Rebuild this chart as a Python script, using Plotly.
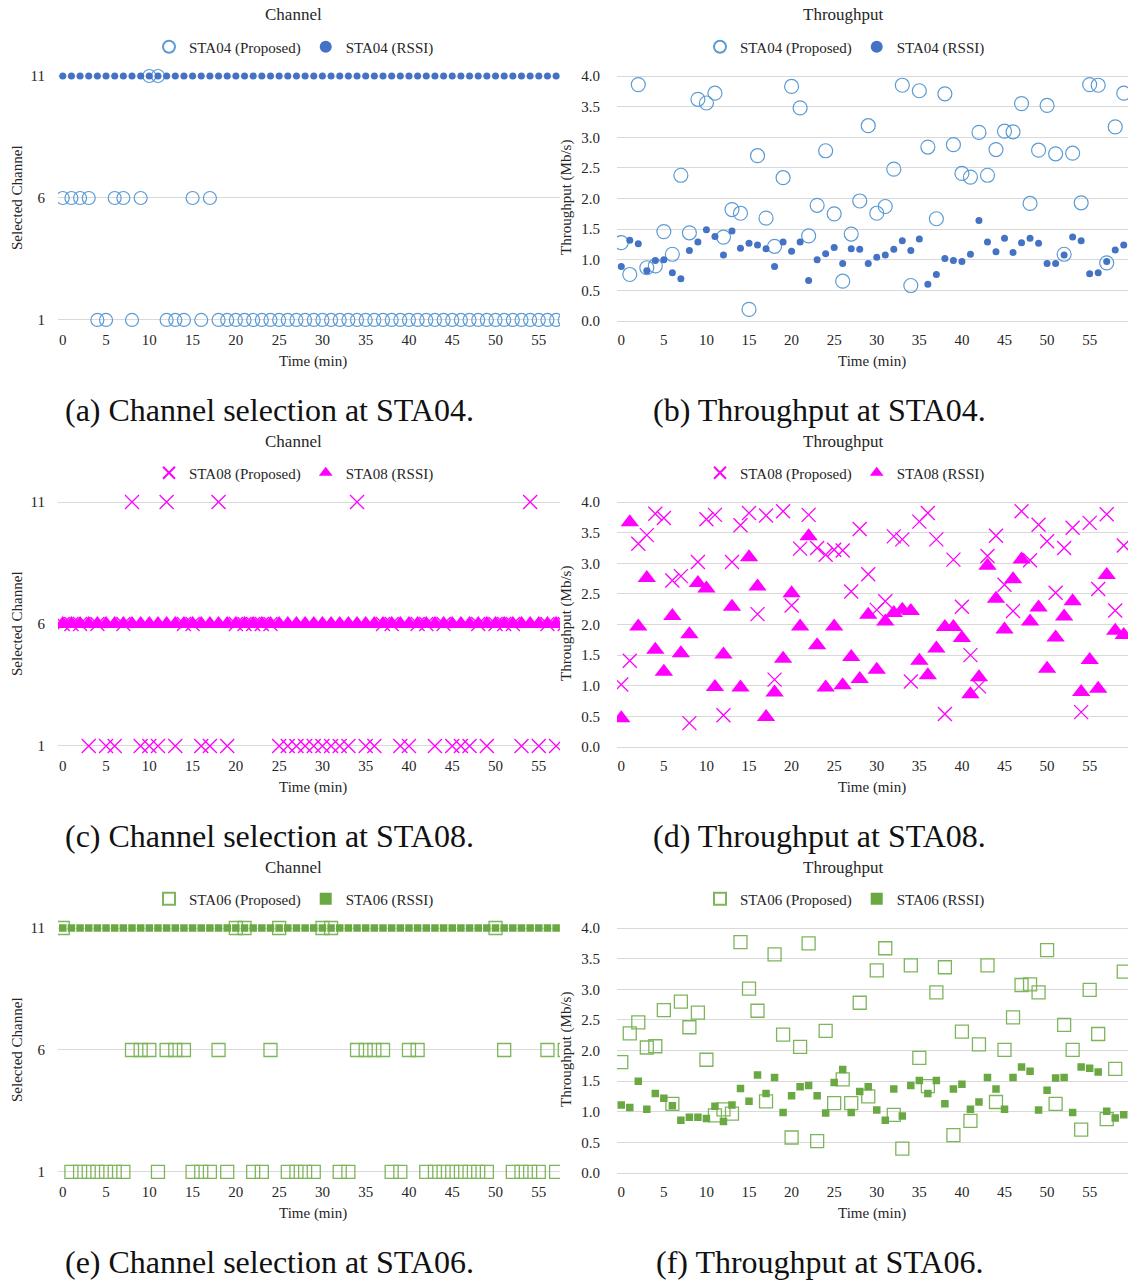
import plotly.graph_objects as go

W, H = 1141, 1283
FONT = "Liberation Serif"
TXT = "#262626"
GRID = "#D9D9D9"

minutes = list(range(60))

# ---------------- STA04 ----------------
sta04_ch_proposed = [6, 6, 6, 6, 1, 1, 6, 6, 1, 6, 11, 11, 1, 1, 1, 6, 1, 6, 1, 1,
                     1, 1, 1, 1, 1, 1, 1, 1, 1, 1, 1, 1, 1, 1, 1, 1, 1, 1, 1, 1,
                     1, 1, 1, 1, 1, 1, 1, 1, 1, 1, 1, 1, 1, 1, 1, 1, 1, 1, 1, 1]
sta04_ch_rssi = [11, 11, 11, 11, 11, 11, 11, 11, 11, 11, 11, 11, 11, 11, 11, 11, 11, 11, 11, 11,
                 11, 11, 11, 11, 11, 11, 11, 11, 11, 11, 11, 11, 11, 11, 11, 11, 11, 11, 11, 11,
                 11, 11, 11, 11, 11, 11, 11, 11, 11, 11, 11, 11, 11, 11, 11, 11, 11, 11, 11, 11]
sta04_tp_proposed = [1.28, 0.76, 3.86, 0.87, 0.90, 1.46, 1.09, 2.38, 1.44, 3.62,
                     3.56, 3.72, 1.37, 1.82, 1.76, 0.19, 2.70, 1.68, 1.22, 2.34,
                     3.83, 3.48, 1.39, 1.89, 2.78, 1.75, 0.65, 1.42, 1.96, 3.19,
                     1.76, 1.87, 2.48, 3.85, 0.58, 3.76, 2.84, 1.67, 3.71, 2.88,
                     2.41, 2.35, 3.08, 2.38, 2.80, 3.10, 3.09, 3.55, 1.92, 2.79,
                     3.52, 2.73, 1.09, 2.74, 1.93, 3.86, 3.85, 0.95, 3.17, 3.72]
sta04_tp_rssi = [0.89, 1.32, 1.26, 0.82, 0.99, 1.00, 0.79, 0.69, 1.15, 1.29,
                 1.49, 1.38, 1.08, 1.47, 1.19, 1.27, 1.24, 1.18, 0.89, 1.29,
                 1.14, 1.29, 0.66, 1.00, 1.10, 1.20, 0.94, 1.18, 1.17, 0.94,
                 1.04, 1.08, 1.17, 1.31, 1.15, 1.34, 0.60, 0.76, 1.02, 0.99,
                 0.97, 1.09, 1.64, 1.29, 1.13, 1.35, 1.12, 1.28, 1.35, 1.27,
                 0.94, 0.94, 1.08, 1.37, 1.31, 0.77, 0.79, 0.97, 1.16, 1.24]

# ---------------- STA08 ----------------
sta08_ch_proposed = [6, 6, 6, 1, 6, 1, 1, 6, 11, 1, 1, 1, 11, 1, 6, 6, 1, 1, 11, 1,
                     6, 6, 6, 6, 6, 1, 1, 1, 1, 1, 1, 1, 1, 1, 11, 1, 1, 6, 6, 1,
                     1, 6, 6, 1, 6, 1, 1, 1, 6, 1, 6, 6, 6, 1, 11, 1, 6, 1, 6, 6]
sta08_ch_rssi = [6, 6, 6, 6, 6, 6, 6, 6, 6, 6, 6, 6, 6, 6, 6, 6, 6, 6, 6, 6,
                 6, 6, 6, 6, 6, 6, 6, 6, 6, 6, 6, 6, 6, 6, 6, 6, 6, 6, 6, 6,
                 6, 6, 6, 6, 6, 6, 6, 6, 6, 6, 6, 6, 6, 6, 6, 6, 6, 6, 6, 6]
sta08_tp_proposed = [1.02, 1.41, 3.32, 3.46, 3.81, 3.74, 2.72, 2.79, 0.39, 3.02,
                     3.72, 3.79, 0.52, 3.02, 3.62, 3.82, 2.17, 3.78, 1.10, 3.85,
                     2.31, 3.24, 3.79, 3.25, 3.14, 3.22, 3.21, 2.54, 3.56, 2.82,
                     2.24, 2.38, 3.44, 3.39, 1.07, 3.68, 3.82, 3.39, 0.54, 3.06,
                     2.29, 1.50, 0.99, 3.12, 3.45, 2.65, 2.22, 3.85, 3.05, 3.63,
                     3.36, 2.52, 3.25, 3.58, 0.57, 3.66, 2.58, 3.80, 2.23, 3.29]
sta08_tp_rssi = [0.47, 3.67, 1.97, 2.76, 1.59, 1.23, 2.14, 1.53, 1.84, 2.68,
                 2.59, 0.98, 1.51, 2.29, 0.97, 3.10, 2.62, 0.49, 0.89, 1.44,
                 2.51, 1.97, 3.44, 1.66, 0.97, 1.97, 1.01, 1.47, 1.11, 2.16,
                 1.26, 2.05, 2.19, 2.24, 2.22, 1.41, 1.17, 1.61, 1.96, 1.96,
                 1.78, 0.86, 1.14, 2.96, 2.42, 1.92, 2.74, 3.06, 2.05, 2.28,
                 1.28, 1.79, 2.13, 2.38, 0.90, 1.42, 0.95, 2.81, 1.90, 1.83]

# ---------------- STA06 ----------------
sta06_ch_proposed = [11, 1, 1, 1, 1, 1, 1, 1, 6, 6, 6, 1, 6, 6, 6, 1, 1, 1, 6, 1,
                     11, 11, 1, 1, 6, 11, 1, 1, 1, 1, 11, 11, 1, 1, 6, 6, 6, 6, 1, 1,
                     6, 6, 1, 1, 1, 1, 1, 1, 1, 1, 11, 6, 1, 1, 1, 1, 6, 1, 6, 1]
sta06_ch_rssi = [11, 11, 11, 11, 11, 11, 11, 11, 11, 11, 11, 11, 11, 11, 11, 11, 11, 11, 11, 11,
                 11, 11, 11, 11, 11, 11, 11, 11, 11, 11, 11, 11, 11, 11, 11, 11, 11, 11, 11, 11,
                 11, 11, 11, 11, 11, 11, 11, 11, 11, 11, 11, 11, 11, 11, 11, 11, 11, 11, 11, 11]
sta06_tp_proposed = [1.81, 2.28, 2.46, 2.05, 2.07, 2.66, 1.13, 2.80, 2.38, 2.62,
                     1.85, 0.94, 1.04, 0.97, 3.77, 3.01, 2.65, 1.17, 3.57, 2.26,
                     0.58, 2.06, 3.75, 0.52, 2.32, 1.14, 1.53, 1.14, 2.78, 1.25,
                     3.31, 3.67, 0.95, 0.40, 3.39, 1.88, 1.42, 2.95, 3.36, 0.62,
                     2.31, 0.85, 2.10, 3.39, 1.16, 2.01, 2.54, 3.07, 3.08, 2.95,
                     3.64, 1.13, 2.42, 2.01, 0.71, 2.99, 2.27, 0.88, 1.70, 3.29]
sta06_tp_rssi = [1.11, 1.07, 1.50, 1.04, 1.30, 1.22, 1.10, 0.86, 0.91, 0.91,
                 0.89, 1.09, 0.84, 1.11, 1.38, 1.17, 1.60, 1.30, 1.56, 0.99,
                 1.26, 1.41, 1.43, 1.26, 0.98, 1.48, 1.69, 0.99, 1.33, 1.41,
                 1.03, 0.86, 1.37, 0.93, 1.43, 1.51, 1.30, 1.51, 1.13, 1.37,
                 1.45, 1.04, 1.16, 1.56, 1.37, 1.04, 1.56, 1.73, 1.66, 1.03,
                 1.35, 1.55, 1.56, 0.99, 1.73, 1.71, 1.65, 1.01, 0.90, 0.95]

channel_ticks = [1, 6, 11]
time_ticks = [0, 5, 10, 15, 20, 25, 30, 35, 40, 45, 50, 55]
captions = ["(a) Channel selection at STA04.", "(b) Throughput at STA04.",
            "(c) Channel selection at STA08.", "(d) Throughput at STA08.",
            "(e) Channel selection at STA06.", "(f) Throughput at STA06."]

# ---------------- styles ----------------
BLUE_O, BLUE_F = "#5B9BD5", "#4472C4"
MAG = "#FF00FF"
GREEN_O, GREEN_F = "#7DB55A", "#6AA842"

styles = {
    "STA04": (
        dict(symbol="circle-open", color=BLUE_O, line=dict(width=1.2, color=BLUE_O)),
        dict(symbol="circle", color=BLUE_F, line=dict(width=0)),
        (13, 7), (14, 7)),
    "STA08": (
        dict(symbol="x-thin-open", color=MAG, line=dict(width=1.3, color=MAG)),
        dict(symbol="triangle-up", color=MAG, line=dict(width=0)),
        (14, 16), (14, 16)),
    "STA06": (
        dict(symbol="square-open", color=GREEN_O, line=dict(width=1.3, color=GREEN_O)),
        dict(symbol="square", color=GREEN_F, line=dict(width=0)),
        (13, 7.5), (13, 7.5)),
}

rows = [
    ("STA04", sta04_ch_proposed, sta04_ch_rssi, sta04_tp_proposed, sta04_tp_rssi),
    ("STA08", sta08_ch_proposed, sta08_ch_rssi, sta08_tp_proposed, sta08_tp_rssi),
    ("STA06", sta06_ch_proposed, sta06_ch_rssi, sta06_tp_proposed, sta06_tp_rssi),
]

def py(p):  # pixel y -> paper
    return 1 - p / H

def px(p):
    return p / W

fig = go.Figure()
layout = dict(width=W, height=H, margin=dict(l=0, r=0, t=0, b=0),
              paper_bgcolor="white", plot_bgcolor="white",
              font=dict(family=FONT, color=TXT, size=15), showlegend=True)
annotations = []

ROW_OFF = 426
LEFT_DOM = [px(58), px(560)]
RIGHT_DOM = [px(617), px(1128)]
LEFT_C, RIGHT_C = 294, 845

for r, (name, chp, chr_, tpp, tpr) in enumerate(rows):
    off = ROW_OFF * r
    top, bot = 63.8 + off, 328.5 + off
    ydom = [py(bot), py(top)]
    mp, mr, szc, szt = styles[name]
    for c in range(2):
        n = 2 * r + c + 1
        xa = "xaxis" if n == 1 else f"xaxis{n}"
        ya = "yaxis" if n == 1 else f"yaxis{n}"
        xr = "x" if n == 1 else f"x{n}"
        yr = "y" if n == 1 else f"y{n}"
        lg = "legend" if n == 1 else f"legend{n}"
        if c == 0:
            yp, yq, sz = chp, chr_, szc
        else:
            yp, yq, sz = tpp, tpr, szt
        fig.add_trace(go.Scatter(x=minutes, y=yp, mode="markers", name=f"{name} (Proposed)",
                                 marker=dict(mp, size=sz[0]), xaxis=xr, yaxis=yr, legend=lg))
        fig.add_trace(go.Scatter(x=minutes, y=yq, mode="markers", name=f"{name} (RSSI)",
                                 marker=dict(mr, size=sz[1]), xaxis=xr, yaxis=yr, legend=lg))
        xdict = dict(domain=LEFT_DOM if c == 0 else RIGHT_DOM, anchor=yr,
                     range=[-0.55, 57.45] if c == 0 else [-0.5, 59.5],
                     tickvals=time_ticks, showgrid=False, zeroline=False, showline=False,
                     ticks="", tickfont=dict(size=15, family=FONT, color=TXT))
        if c == 0:
            ydict = dict(domain=ydom, anchor=xr, range=[0.65, 11.5], tickvals=channel_ticks,
                         showgrid=True, gridcolor=GRID, gridwidth=1, zeroline=False,
                         showline=False, ticks="", ticklabelstandoff=12,
                         tickfont=dict(size=15, family=FONT, color=TXT))
        else:
            ydict = dict(domain=ydom, anchor=xr, range=[-0.122, 4.2], dtick=0.5, tick0=0,
                         tickformat=".1f", showgrid=True, gridcolor=GRID, gridwidth=1,
                         zeroline=False, showline=False, ticks="", ticklabelstandoff=16,
                         tickfont=dict(size=15, family=FONT, color=TXT))
        layout[xa] = xdict
        layout[ya] = ydict
        cx = LEFT_C if c == 0 else RIGHT_C
        layout[lg] = dict(orientation="h", x=px(cx), y=py(47 + off), xanchor="center",
                          yanchor="middle", xref="paper", yref="paper",
                          bgcolor="rgba(0,0,0,0)", itemsizing="constant",
                          font=dict(size=15, family=FONT, color=TXT), itemwidth=30,
                          tracegroupgap=0)
        # panel title
        annotations.append(dict(text="Channel" if c == 0 else "Throughput", x=px(293 if c == 0 else 843),
                                y=py(15 + off), xref="paper", yref="paper", showarrow=False,
                                xanchor="center", yanchor="middle",
                                font=dict(size=17, family=FONT, color=TXT)))
        # x axis title
        annotations.append(dict(text="Time (min)", x=px(313 if c == 0 else 872),
                                y=py(361 + off), xref="paper", yref="paper", showarrow=False,
                                xanchor="center", yanchor="middle",
                                font=dict(size=15, family=FONT, color=TXT)))
        # y axis title
        annotations.append(dict(text="Selected Channel" if c == 0 else "Throughput (Mb/s)",
                                x=px(17 if c == 0 else 566), y=py(198 + off), xref="paper",
                                yref="paper", showarrow=False, textangle=-90,
                                xanchor="center", yanchor="middle",
                                font=dict(size=15, family=FONT, color=TXT)))
        # caption
        annotations.append(dict(text=captions[n - 1], x=px(269 if c == 0 else 819),
                                y=py(410 + off), xref="paper", yref="paper", showarrow=False,
                                xanchor="center", yanchor="middle",
                                font=dict(size=32, family=FONT, color="#111111")))

layout["annotations"] = annotations
fig.update_layout(**layout)
fig.write_html("out.html")
